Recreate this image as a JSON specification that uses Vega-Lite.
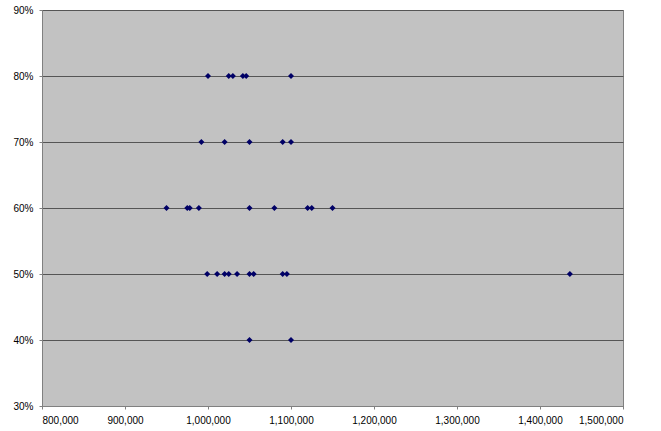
{
  "$schema": "https://vega.github.io/schema/vega-lite/v6.json",
  "autosize": "none",
  "width": 581,
  "height": 396,
  "padding": {"left": 42, "top": 10, "right": 38, "bottom": 25},
  "background": "white",
  "view": {"fill": "#c2c2c2", "stroke": "#808080", "strokeWidth": 1},
  "data": {"values": [
    {"x": 1000000, "y": 0.8}, {"x": 1025000, "y": 0.8}, {"x": 1030000, "y": 0.8}, {"x": 1042000, "y": 0.8}, {"x": 1046000, "y": 0.8}, {"x": 1100000, "y": 0.8},
    {"x": 992000, "y": 0.7}, {"x": 1020000, "y": 0.7}, {"x": 1050000, "y": 0.7}, {"x": 1090000, "y": 0.7}, {"x": 1100000, "y": 0.7},
    {"x": 950000, "y": 0.6}, {"x": 975000, "y": 0.6}, {"x": 978000, "y": 0.6}, {"x": 989000, "y": 0.6}, {"x": 1050000, "y": 0.6}, {"x": 1080000, "y": 0.6}, {"x": 1120000, "y": 0.6}, {"x": 1125000, "y": 0.6}, {"x": 1150000, "y": 0.6},
    {"x": 999000, "y": 0.5}, {"x": 1011000, "y": 0.5}, {"x": 1020000, "y": 0.5}, {"x": 1025000, "y": 0.5}, {"x": 1035000, "y": 0.5}, {"x": 1050000, "y": 0.5}, {"x": 1055000, "y": 0.5}, {"x": 1090000, "y": 0.5}, {"x": 1095000, "y": 0.5}, {"x": 1436000, "y": 0.5},
    {"x": 1050000, "y": 0.4}, {"x": 1100000, "y": 0.4}
  ]},
  "mark": {"type": "point", "shape": "diamond", "filled": true, "size": 36, "color": "#000066", "opacity": 1},
  "encoding": {
    "x": {
      "field": "x", "type": "quantitative",
      "scale": {"domain": [800000, 1500000], "nice": false, "zero": false},
      "axis": {
        "title": null, "values": [800000, 900000, 1000000, 1100000, 1200000, 1300000, 1400000, 1500000],
        "format": ",d", "grid": false, "domainColor": "#808080", "tickColor": "#808080", "tickSize": 3,
        "labelFont": "Liberation Sans", "labelFontSize": 10, "labelColor": "#000000", "labelPadding": 6
      }
    },
    "y": {
      "field": "y", "type": "quantitative",
      "scale": {"domain": [0.3, 0.9], "nice": false, "zero": false},
      "axis": {
        "title": null, "values": [0.3, 0.4, 0.5, 0.6, 0.7, 0.8, 0.9],
        "format": ".0%", "grid": true, "gridColor": "#555555", "gridWidth": 1,
        "domainColor": "#808080", "tickColor": "#808080", "tickSize": 3,
        "labelFont": "Liberation Sans", "labelFontSize": 10, "labelColor": "#000000", "labelPadding": 6
      }
    }
  }
}
